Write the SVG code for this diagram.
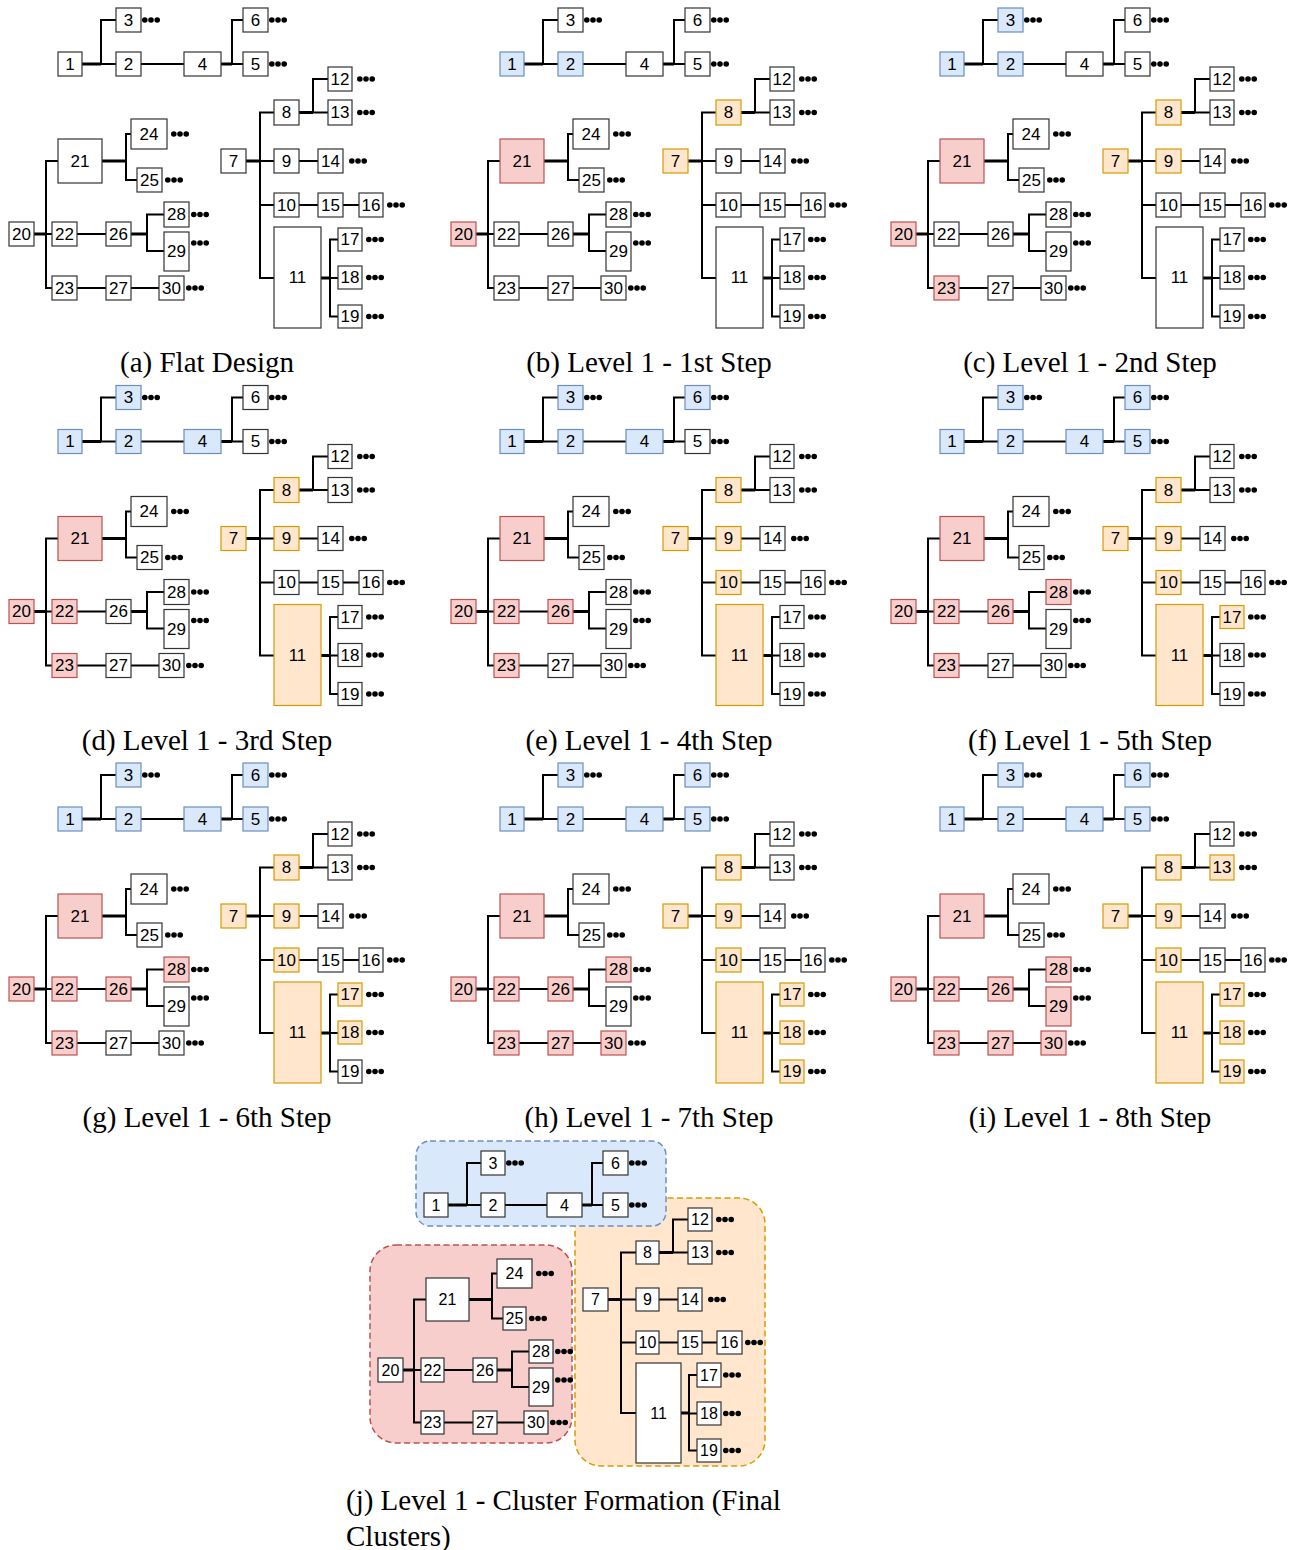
<svg xmlns="http://www.w3.org/2000/svg" xmlns:xlink="http://www.w3.org/1999/xlink" width="1304" height="1550" viewBox="0 0 1304 1550">
<style>
.nd rect{fill:#fff;stroke:#333;stroke-width:1.2}
.nd.B rect{fill:#dae8fc;stroke:#6c8ebf}
.nd.R rect{fill:#f8cecc;stroke:#b85450}
.nd.O rect{fill:#ffe6cc;stroke:#d79b00}
.nd text{font-family:"Liberation Sans",Arial,sans-serif;font-size:17px;text-anchor:middle;dominant-baseline:central;fill:#000}
.j text{font-size:16px}
.thin{fill:none;stroke:#000;stroke-width:2}
.thick{fill:none;stroke:#000;stroke-width:3}
.cap{font-family:"Liberation Serif","Times New Roman",serif;font-size:29px;text-anchor:middle;fill:#000}
.capl{font-family:"Liberation Serif","Times New Roman",serif;font-size:29px;fill:#000}
.reg{stroke-width:1.5;stroke-dasharray:6 3.5}
</style>
<defs>
<g id="dots"><circle cx="2.8" cy="0" r="2.8"/><circle cx="9" cy="0" r="2.8"/><circle cx="15.2" cy="0" r="2.8"/></g>
<g id="edges">
<path class="thin" d="M116,20H101V64H116 M141,64H184 M243,20H232V64H243 M274,112.5H260V278H274 M260,161H274 M260,205H274 M328,79H313V112.5H328 M299,161H318 M299,205H318 M343,205H359 M338,239.5H330V316.5H338 M330,278H338 M58,161H46V288H52 M46,234H52 M131,134H126V180H137 M77,234H106 M164,214.5H147V251H164 M77,288H106 M131,288H159"/>
<path class="thick" d="M82,64H101 M221,64H232 M246,161H260 M299,112.5H313 M321,278H330 M34,234H46 M102,161H126 M131,234H147"/>
</g>
<g id="pdots">
<use href="#dots" x="142" y="20"/><use href="#dots" x="269" y="20"/><use href="#dots" x="269" y="64"/><use href="#dots" x="357" y="79"/><use href="#dots" x="357" y="112.5"/><use href="#dots" x="349" y="161"/><use href="#dots" x="387" y="205"/><use href="#dots" x="366" y="239.5"/><use href="#dots" x="366" y="277.5"/><use href="#dots" x="366" y="316.5"/><use href="#dots" x="171" y="134"/><use href="#dots" x="165" y="180"/><use href="#dots" x="191" y="214.5"/><use href="#dots" x="191" y="243"/><use href="#dots" x="186" y="288"/>
</g>
</defs>
<rect width="1304" height="1550" fill="#fff"/>

<!-- (a) -->
<g id="panel-a">
<g id="a-connectors"><use href="#edges"/></g>
<use href="#pdots"/>
<g id="a1" class="nd"><rect x="58" y="52" width="24" height="24"/><text x="70" y="64">1</text></g>
<g id="a2" class="nd"><rect x="116" y="52" width="25" height="24"/><text x="128.5" y="64">2</text></g>
<g id="a3" class="nd"><rect x="116" y="8" width="25" height="24"/><text x="128.5" y="20">3</text></g>
<g id="a4" class="nd"><rect x="184" y="52" width="37" height="24"/><text x="202.5" y="64">4</text></g>
<g id="a5" class="nd"><rect x="243" y="52" width="25" height="24"/><text x="255.5" y="64">5</text></g>
<g id="a6" class="nd"><rect x="243" y="8" width="25" height="24"/><text x="255.5" y="20">6</text></g>
<g id="a7" class="nd"><rect x="221" y="149" width="25" height="24"/><text x="233.5" y="161">7</text></g>
<g id="a8" class="nd"><rect x="274" y="100" width="25" height="25"/><text x="286.5" y="112.5">8</text></g>
<g id="a9" class="nd"><rect x="274" y="149" width="25" height="24"/><text x="286.5" y="161">9</text></g>
<g id="a10" class="nd"><rect x="274" y="193" width="25" height="24"/><text x="286.5" y="205">10</text></g>
<g id="a11" class="nd"><rect x="274" y="227" width="47" height="101"/><text x="297.5" y="277.5">11</text></g>
<g id="a12" class="nd"><rect x="328" y="67" width="24" height="24"/><text x="340" y="79">12</text></g>
<g id="a13" class="nd"><rect x="328" y="100" width="24" height="25"/><text x="340" y="112.5">13</text></g>
<g id="a14" class="nd"><rect x="318" y="149" width="25" height="24"/><text x="330.5" y="161">14</text></g>
<g id="a15" class="nd"><rect x="318" y="193" width="25" height="24"/><text x="330.5" y="205">15</text></g>
<g id="a16" class="nd"><rect x="359" y="193" width="24" height="24"/><text x="371" y="205">16</text></g>
<g id="a17" class="nd"><rect x="338" y="228" width="24" height="23"/><text x="350" y="239.5">17</text></g>
<g id="a18" class="nd"><rect x="338" y="266" width="24" height="23"/><text x="350" y="277.5">18</text></g>
<g id="a19" class="nd"><rect x="338" y="305" width="24" height="23"/><text x="350" y="316.5">19</text></g>
<g id="a20" class="nd"><rect x="9" y="222" width="25" height="24"/><text x="21.5" y="234">20</text></g>
<g id="a21" class="nd"><rect x="58" y="139" width="44" height="44"/><text x="80" y="161">21</text></g>
<g id="a22" class="nd"><rect x="52" y="222" width="25" height="24"/><text x="64.5" y="234">22</text></g>
<g id="a23" class="nd"><rect x="52" y="276" width="25" height="24"/><text x="64.5" y="288">23</text></g>
<g id="a24" class="nd"><rect x="131" y="119" width="36" height="30"/><text x="149" y="134">24</text></g>
<g id="a25" class="nd"><rect x="137" y="168" width="25" height="24"/><text x="149.5" y="180">25</text></g>
<g id="a26" class="nd"><rect x="106" y="222" width="25" height="24"/><text x="118.5" y="234">26</text></g>
<g id="a27" class="nd"><rect x="106" y="276" width="25" height="24"/><text x="118.5" y="288">27</text></g>
<g id="a28" class="nd"><rect x="164" y="202" width="25" height="25"/><text x="176.5" y="214.5">28</text></g>
<g id="a29" class="nd"><rect x="164" y="232" width="25" height="39"/><text x="176.5" y="251.5">29</text></g>
<g id="a30" class="nd"><rect x="159" y="276" width="25" height="24"/><text x="171.5" y="288">30</text></g>
<text class="cap" x="207" y="372">(a) Flat Design</text>
</g>

<!-- (b) -->
<g id="panel-b" transform="translate(442,0)">
<g id="b-connectors"><use href="#edges"/></g>
<use href="#pdots"/>
<g id="b1" class="nd B"><rect x="58" y="52" width="24" height="24"/><text x="70" y="64">1</text></g>
<g id="b2" class="nd B"><rect x="116" y="52" width="25" height="24"/><text x="128.5" y="64">2</text></g>
<g id="b3" class="nd"><rect x="116" y="8" width="25" height="24"/><text x="128.5" y="20">3</text></g>
<g id="b4" class="nd"><rect x="184" y="52" width="37" height="24"/><text x="202.5" y="64">4</text></g>
<g id="b5" class="nd"><rect x="243" y="52" width="25" height="24"/><text x="255.5" y="64">5</text></g>
<g id="b6" class="nd"><rect x="243" y="8" width="25" height="24"/><text x="255.5" y="20">6</text></g>
<g id="b7" class="nd O"><rect x="221" y="149" width="25" height="24"/><text x="233.5" y="161">7</text></g>
<g id="b8" class="nd O"><rect x="274" y="100" width="25" height="25"/><text x="286.5" y="112.5">8</text></g>
<g id="b9" class="nd"><rect x="274" y="149" width="25" height="24"/><text x="286.5" y="161">9</text></g>
<g id="b10" class="nd"><rect x="274" y="193" width="25" height="24"/><text x="286.5" y="205">10</text></g>
<g id="b11" class="nd"><rect x="274" y="227" width="47" height="101"/><text x="297.5" y="277.5">11</text></g>
<g id="b12" class="nd"><rect x="328" y="67" width="24" height="24"/><text x="340" y="79">12</text></g>
<g id="b13" class="nd"><rect x="328" y="100" width="24" height="25"/><text x="340" y="112.5">13</text></g>
<g id="b14" class="nd"><rect x="318" y="149" width="25" height="24"/><text x="330.5" y="161">14</text></g>
<g id="b15" class="nd"><rect x="318" y="193" width="25" height="24"/><text x="330.5" y="205">15</text></g>
<g id="b16" class="nd"><rect x="359" y="193" width="24" height="24"/><text x="371" y="205">16</text></g>
<g id="b17" class="nd"><rect x="338" y="228" width="24" height="23"/><text x="350" y="239.5">17</text></g>
<g id="b18" class="nd"><rect x="338" y="266" width="24" height="23"/><text x="350" y="277.5">18</text></g>
<g id="b19" class="nd"><rect x="338" y="305" width="24" height="23"/><text x="350" y="316.5">19</text></g>
<g id="b20" class="nd R"><rect x="9" y="222" width="25" height="24"/><text x="21.5" y="234">20</text></g>
<g id="b21" class="nd R"><rect x="58" y="139" width="44" height="44"/><text x="80" y="161">21</text></g>
<g id="b22" class="nd"><rect x="52" y="222" width="25" height="24"/><text x="64.5" y="234">22</text></g>
<g id="b23" class="nd"><rect x="52" y="276" width="25" height="24"/><text x="64.5" y="288">23</text></g>
<g id="b24" class="nd"><rect x="131" y="119" width="36" height="30"/><text x="149" y="134">24</text></g>
<g id="b25" class="nd"><rect x="137" y="168" width="25" height="24"/><text x="149.5" y="180">25</text></g>
<g id="b26" class="nd"><rect x="106" y="222" width="25" height="24"/><text x="118.5" y="234">26</text></g>
<g id="b27" class="nd"><rect x="106" y="276" width="25" height="24"/><text x="118.5" y="288">27</text></g>
<g id="b28" class="nd"><rect x="164" y="202" width="25" height="25"/><text x="176.5" y="214.5">28</text></g>
<g id="b29" class="nd"><rect x="164" y="232" width="25" height="39"/><text x="176.5" y="251.5">29</text></g>
<g id="b30" class="nd"><rect x="159" y="276" width="25" height="24"/><text x="171.5" y="288">30</text></g>
<text class="cap" x="207" y="372">(b) Level 1 - 1st Step</text>
</g>

<!-- (c) -->
<g id="panel-c" transform="translate(882,0)">
<g id="c-connectors"><use href="#edges"/></g>
<use href="#pdots"/>
<g id="c1" class="nd B"><rect x="58" y="52" width="24" height="24"/><text x="70" y="64">1</text></g>
<g id="c2" class="nd B"><rect x="116" y="52" width="25" height="24"/><text x="128.5" y="64">2</text></g>
<g id="c3" class="nd B"><rect x="116" y="8" width="25" height="24"/><text x="128.5" y="20">3</text></g>
<g id="c4" class="nd"><rect x="184" y="52" width="37" height="24"/><text x="202.5" y="64">4</text></g>
<g id="c5" class="nd"><rect x="243" y="52" width="25" height="24"/><text x="255.5" y="64">5</text></g>
<g id="c6" class="nd"><rect x="243" y="8" width="25" height="24"/><text x="255.5" y="20">6</text></g>
<g id="c7" class="nd O"><rect x="221" y="149" width="25" height="24"/><text x="233.5" y="161">7</text></g>
<g id="c8" class="nd O"><rect x="274" y="100" width="25" height="25"/><text x="286.5" y="112.5">8</text></g>
<g id="c9" class="nd O"><rect x="274" y="149" width="25" height="24"/><text x="286.5" y="161">9</text></g>
<g id="c10" class="nd"><rect x="274" y="193" width="25" height="24"/><text x="286.5" y="205">10</text></g>
<g id="c11" class="nd"><rect x="274" y="227" width="47" height="101"/><text x="297.5" y="277.5">11</text></g>
<g id="c12" class="nd"><rect x="328" y="67" width="24" height="24"/><text x="340" y="79">12</text></g>
<g id="c13" class="nd"><rect x="328" y="100" width="24" height="25"/><text x="340" y="112.5">13</text></g>
<g id="c14" class="nd"><rect x="318" y="149" width="25" height="24"/><text x="330.5" y="161">14</text></g>
<g id="c15" class="nd"><rect x="318" y="193" width="25" height="24"/><text x="330.5" y="205">15</text></g>
<g id="c16" class="nd"><rect x="359" y="193" width="24" height="24"/><text x="371" y="205">16</text></g>
<g id="c17" class="nd"><rect x="338" y="228" width="24" height="23"/><text x="350" y="239.5">17</text></g>
<g id="c18" class="nd"><rect x="338" y="266" width="24" height="23"/><text x="350" y="277.5">18</text></g>
<g id="c19" class="nd"><rect x="338" y="305" width="24" height="23"/><text x="350" y="316.5">19</text></g>
<g id="c20" class="nd R"><rect x="9" y="222" width="25" height="24"/><text x="21.5" y="234">20</text></g>
<g id="c21" class="nd R"><rect x="58" y="139" width="44" height="44"/><text x="80" y="161">21</text></g>
<g id="c22" class="nd"><rect x="52" y="222" width="25" height="24"/><text x="64.5" y="234">22</text></g>
<g id="c23" class="nd R"><rect x="52" y="276" width="25" height="24"/><text x="64.5" y="288">23</text></g>
<g id="c24" class="nd"><rect x="131" y="119" width="36" height="30"/><text x="149" y="134">24</text></g>
<g id="c25" class="nd"><rect x="137" y="168" width="25" height="24"/><text x="149.5" y="180">25</text></g>
<g id="c26" class="nd"><rect x="106" y="222" width="25" height="24"/><text x="118.5" y="234">26</text></g>
<g id="c27" class="nd"><rect x="106" y="276" width="25" height="24"/><text x="118.5" y="288">27</text></g>
<g id="c28" class="nd"><rect x="164" y="202" width="25" height="25"/><text x="176.5" y="214.5">28</text></g>
<g id="c29" class="nd"><rect x="164" y="232" width="25" height="39"/><text x="176.5" y="251.5">29</text></g>
<g id="c30" class="nd"><rect x="159" y="276" width="25" height="24"/><text x="171.5" y="288">30</text></g>
<text class="cap" x="208" y="372">(c) Level 1 - 2nd Step</text>
</g>

<!-- (d) -->
<g id="panel-d" transform="translate(0,377.5)">
<g id="d-connectors"><use href="#edges"/></g>
<use href="#pdots"/>
<g id="d1" class="nd B"><rect x="58" y="52" width="24" height="24"/><text x="70" y="64">1</text></g>
<g id="d2" class="nd B"><rect x="116" y="52" width="25" height="24"/><text x="128.5" y="64">2</text></g>
<g id="d3" class="nd B"><rect x="116" y="8" width="25" height="24"/><text x="128.5" y="20">3</text></g>
<g id="d4" class="nd B"><rect x="184" y="52" width="37" height="24"/><text x="202.5" y="64">4</text></g>
<g id="d5" class="nd"><rect x="243" y="52" width="25" height="24"/><text x="255.5" y="64">5</text></g>
<g id="d6" class="nd"><rect x="243" y="8" width="25" height="24"/><text x="255.5" y="20">6</text></g>
<g id="d7" class="nd O"><rect x="221" y="149" width="25" height="24"/><text x="233.5" y="161">7</text></g>
<g id="d8" class="nd O"><rect x="274" y="100" width="25" height="25"/><text x="286.5" y="112.5">8</text></g>
<g id="d9" class="nd O"><rect x="274" y="149" width="25" height="24"/><text x="286.5" y="161">9</text></g>
<g id="d10" class="nd"><rect x="274" y="193" width="25" height="24"/><text x="286.5" y="205">10</text></g>
<g id="d11" class="nd O"><rect x="274" y="227" width="47" height="101"/><text x="297.5" y="277.5">11</text></g>
<g id="d12" class="nd"><rect x="328" y="67" width="24" height="24"/><text x="340" y="79">12</text></g>
<g id="d13" class="nd"><rect x="328" y="100" width="24" height="25"/><text x="340" y="112.5">13</text></g>
<g id="d14" class="nd"><rect x="318" y="149" width="25" height="24"/><text x="330.5" y="161">14</text></g>
<g id="d15" class="nd"><rect x="318" y="193" width="25" height="24"/><text x="330.5" y="205">15</text></g>
<g id="d16" class="nd"><rect x="359" y="193" width="24" height="24"/><text x="371" y="205">16</text></g>
<g id="d17" class="nd"><rect x="338" y="228" width="24" height="23"/><text x="350" y="239.5">17</text></g>
<g id="d18" class="nd"><rect x="338" y="266" width="24" height="23"/><text x="350" y="277.5">18</text></g>
<g id="d19" class="nd"><rect x="338" y="305" width="24" height="23"/><text x="350" y="316.5">19</text></g>
<g id="d20" class="nd R"><rect x="9" y="222" width="25" height="24"/><text x="21.5" y="234">20</text></g>
<g id="d21" class="nd R"><rect x="58" y="139" width="44" height="44"/><text x="80" y="161">21</text></g>
<g id="d22" class="nd R"><rect x="52" y="222" width="25" height="24"/><text x="64.5" y="234">22</text></g>
<g id="d23" class="nd R"><rect x="52" y="276" width="25" height="24"/><text x="64.5" y="288">23</text></g>
<g id="d24" class="nd"><rect x="131" y="119" width="36" height="30"/><text x="149" y="134">24</text></g>
<g id="d25" class="nd"><rect x="137" y="168" width="25" height="24"/><text x="149.5" y="180">25</text></g>
<g id="d26" class="nd"><rect x="106" y="222" width="25" height="24"/><text x="118.5" y="234">26</text></g>
<g id="d27" class="nd"><rect x="106" y="276" width="25" height="24"/><text x="118.5" y="288">27</text></g>
<g id="d28" class="nd"><rect x="164" y="202" width="25" height="25"/><text x="176.5" y="214.5">28</text></g>
<g id="d29" class="nd"><rect x="164" y="232" width="25" height="39"/><text x="176.5" y="251.5">29</text></g>
<g id="d30" class="nd"><rect x="159" y="276" width="25" height="24"/><text x="171.5" y="288">30</text></g>
<text class="cap" x="207" y="372">(d) Level 1 - 3rd Step</text>
</g>

<!-- (e) -->
<g id="panel-e" transform="translate(442,377.5)">
<g id="e-connectors"><use href="#edges"/></g>
<use href="#pdots"/>
<g id="e1" class="nd B"><rect x="58" y="52" width="24" height="24"/><text x="70" y="64">1</text></g>
<g id="e2" class="nd B"><rect x="116" y="52" width="25" height="24"/><text x="128.5" y="64">2</text></g>
<g id="e3" class="nd B"><rect x="116" y="8" width="25" height="24"/><text x="128.5" y="20">3</text></g>
<g id="e4" class="nd B"><rect x="184" y="52" width="37" height="24"/><text x="202.5" y="64">4</text></g>
<g id="e5" class="nd"><rect x="243" y="52" width="25" height="24"/><text x="255.5" y="64">5</text></g>
<g id="e6" class="nd B"><rect x="243" y="8" width="25" height="24"/><text x="255.5" y="20">6</text></g>
<g id="e7" class="nd O"><rect x="221" y="149" width="25" height="24"/><text x="233.5" y="161">7</text></g>
<g id="e8" class="nd O"><rect x="274" y="100" width="25" height="25"/><text x="286.5" y="112.5">8</text></g>
<g id="e9" class="nd O"><rect x="274" y="149" width="25" height="24"/><text x="286.5" y="161">9</text></g>
<g id="e10" class="nd O"><rect x="274" y="193" width="25" height="24"/><text x="286.5" y="205">10</text></g>
<g id="e11" class="nd O"><rect x="274" y="227" width="47" height="101"/><text x="297.5" y="277.5">11</text></g>
<g id="e12" class="nd"><rect x="328" y="67" width="24" height="24"/><text x="340" y="79">12</text></g>
<g id="e13" class="nd"><rect x="328" y="100" width="24" height="25"/><text x="340" y="112.5">13</text></g>
<g id="e14" class="nd"><rect x="318" y="149" width="25" height="24"/><text x="330.5" y="161">14</text></g>
<g id="e15" class="nd"><rect x="318" y="193" width="25" height="24"/><text x="330.5" y="205">15</text></g>
<g id="e16" class="nd"><rect x="359" y="193" width="24" height="24"/><text x="371" y="205">16</text></g>
<g id="e17" class="nd"><rect x="338" y="228" width="24" height="23"/><text x="350" y="239.5">17</text></g>
<g id="e18" class="nd"><rect x="338" y="266" width="24" height="23"/><text x="350" y="277.5">18</text></g>
<g id="e19" class="nd"><rect x="338" y="305" width="24" height="23"/><text x="350" y="316.5">19</text></g>
<g id="e20" class="nd R"><rect x="9" y="222" width="25" height="24"/><text x="21.5" y="234">20</text></g>
<g id="e21" class="nd R"><rect x="58" y="139" width="44" height="44"/><text x="80" y="161">21</text></g>
<g id="e22" class="nd R"><rect x="52" y="222" width="25" height="24"/><text x="64.5" y="234">22</text></g>
<g id="e23" class="nd R"><rect x="52" y="276" width="25" height="24"/><text x="64.5" y="288">23</text></g>
<g id="e24" class="nd"><rect x="131" y="119" width="36" height="30"/><text x="149" y="134">24</text></g>
<g id="e25" class="nd"><rect x="137" y="168" width="25" height="24"/><text x="149.5" y="180">25</text></g>
<g id="e26" class="nd R"><rect x="106" y="222" width="25" height="24"/><text x="118.5" y="234">26</text></g>
<g id="e27" class="nd"><rect x="106" y="276" width="25" height="24"/><text x="118.5" y="288">27</text></g>
<g id="e28" class="nd"><rect x="164" y="202" width="25" height="25"/><text x="176.5" y="214.5">28</text></g>
<g id="e29" class="nd"><rect x="164" y="232" width="25" height="39"/><text x="176.5" y="251.5">29</text></g>
<g id="e30" class="nd"><rect x="159" y="276" width="25" height="24"/><text x="171.5" y="288">30</text></g>
<text class="cap" x="207" y="372">(e) Level 1 - 4th Step</text>
</g>

<!-- (f) -->
<g id="panel-f" transform="translate(882,377.5)">
<g id="f-connectors"><use href="#edges"/></g>
<use href="#pdots"/>
<g id="f1" class="nd B"><rect x="58" y="52" width="24" height="24"/><text x="70" y="64">1</text></g>
<g id="f2" class="nd B"><rect x="116" y="52" width="25" height="24"/><text x="128.5" y="64">2</text></g>
<g id="f3" class="nd B"><rect x="116" y="8" width="25" height="24"/><text x="128.5" y="20">3</text></g>
<g id="f4" class="nd B"><rect x="184" y="52" width="37" height="24"/><text x="202.5" y="64">4</text></g>
<g id="f5" class="nd B"><rect x="243" y="52" width="25" height="24"/><text x="255.5" y="64">5</text></g>
<g id="f6" class="nd B"><rect x="243" y="8" width="25" height="24"/><text x="255.5" y="20">6</text></g>
<g id="f7" class="nd O"><rect x="221" y="149" width="25" height="24"/><text x="233.5" y="161">7</text></g>
<g id="f8" class="nd O"><rect x="274" y="100" width="25" height="25"/><text x="286.5" y="112.5">8</text></g>
<g id="f9" class="nd O"><rect x="274" y="149" width="25" height="24"/><text x="286.5" y="161">9</text></g>
<g id="f10" class="nd O"><rect x="274" y="193" width="25" height="24"/><text x="286.5" y="205">10</text></g>
<g id="f11" class="nd O"><rect x="274" y="227" width="47" height="101"/><text x="297.5" y="277.5">11</text></g>
<g id="f12" class="nd"><rect x="328" y="67" width="24" height="24"/><text x="340" y="79">12</text></g>
<g id="f13" class="nd"><rect x="328" y="100" width="24" height="25"/><text x="340" y="112.5">13</text></g>
<g id="f14" class="nd"><rect x="318" y="149" width="25" height="24"/><text x="330.5" y="161">14</text></g>
<g id="f15" class="nd"><rect x="318" y="193" width="25" height="24"/><text x="330.5" y="205">15</text></g>
<g id="f16" class="nd"><rect x="359" y="193" width="24" height="24"/><text x="371" y="205">16</text></g>
<g id="f17" class="nd O"><rect x="338" y="228" width="24" height="23"/><text x="350" y="239.5">17</text></g>
<g id="f18" class="nd"><rect x="338" y="266" width="24" height="23"/><text x="350" y="277.5">18</text></g>
<g id="f19" class="nd"><rect x="338" y="305" width="24" height="23"/><text x="350" y="316.5">19</text></g>
<g id="f20" class="nd R"><rect x="9" y="222" width="25" height="24"/><text x="21.5" y="234">20</text></g>
<g id="f21" class="nd R"><rect x="58" y="139" width="44" height="44"/><text x="80" y="161">21</text></g>
<g id="f22" class="nd R"><rect x="52" y="222" width="25" height="24"/><text x="64.5" y="234">22</text></g>
<g id="f23" class="nd R"><rect x="52" y="276" width="25" height="24"/><text x="64.5" y="288">23</text></g>
<g id="f24" class="nd"><rect x="131" y="119" width="36" height="30"/><text x="149" y="134">24</text></g>
<g id="f25" class="nd"><rect x="137" y="168" width="25" height="24"/><text x="149.5" y="180">25</text></g>
<g id="f26" class="nd R"><rect x="106" y="222" width="25" height="24"/><text x="118.5" y="234">26</text></g>
<g id="f27" class="nd"><rect x="106" y="276" width="25" height="24"/><text x="118.5" y="288">27</text></g>
<g id="f28" class="nd R"><rect x="164" y="202" width="25" height="25"/><text x="176.5" y="214.5">28</text></g>
<g id="f29" class="nd"><rect x="164" y="232" width="25" height="39"/><text x="176.5" y="251.5">29</text></g>
<g id="f30" class="nd"><rect x="159" y="276" width="25" height="24"/><text x="171.5" y="288">30</text></g>
<text class="cap" x="208" y="372">(f) Level 1 - 5th Step</text>
</g>

<!-- (g) -->
<g id="panel-g" transform="translate(0,755)">
<g id="g-connectors"><use href="#edges"/></g>
<use href="#pdots"/>
<g id="g1" class="nd B"><rect x="58" y="52" width="24" height="24"/><text x="70" y="64">1</text></g>
<g id="g2" class="nd B"><rect x="116" y="52" width="25" height="24"/><text x="128.5" y="64">2</text></g>
<g id="g3" class="nd B"><rect x="116" y="8" width="25" height="24"/><text x="128.5" y="20">3</text></g>
<g id="g4" class="nd B"><rect x="184" y="52" width="37" height="24"/><text x="202.5" y="64">4</text></g>
<g id="g5" class="nd B"><rect x="243" y="52" width="25" height="24"/><text x="255.5" y="64">5</text></g>
<g id="g6" class="nd B"><rect x="243" y="8" width="25" height="24"/><text x="255.5" y="20">6</text></g>
<g id="g7" class="nd O"><rect x="221" y="149" width="25" height="24"/><text x="233.5" y="161">7</text></g>
<g id="g8" class="nd O"><rect x="274" y="100" width="25" height="25"/><text x="286.5" y="112.5">8</text></g>
<g id="g9" class="nd O"><rect x="274" y="149" width="25" height="24"/><text x="286.5" y="161">9</text></g>
<g id="g10" class="nd O"><rect x="274" y="193" width="25" height="24"/><text x="286.5" y="205">10</text></g>
<g id="g11" class="nd O"><rect x="274" y="227" width="47" height="101"/><text x="297.5" y="277.5">11</text></g>
<g id="g12" class="nd"><rect x="328" y="67" width="24" height="24"/><text x="340" y="79">12</text></g>
<g id="g13" class="nd"><rect x="328" y="100" width="24" height="25"/><text x="340" y="112.5">13</text></g>
<g id="g14" class="nd"><rect x="318" y="149" width="25" height="24"/><text x="330.5" y="161">14</text></g>
<g id="g15" class="nd"><rect x="318" y="193" width="25" height="24"/><text x="330.5" y="205">15</text></g>
<g id="g16" class="nd"><rect x="359" y="193" width="24" height="24"/><text x="371" y="205">16</text></g>
<g id="g17" class="nd O"><rect x="338" y="228" width="24" height="23"/><text x="350" y="239.5">17</text></g>
<g id="g18" class="nd O"><rect x="338" y="266" width="24" height="23"/><text x="350" y="277.5">18</text></g>
<g id="g19" class="nd"><rect x="338" y="305" width="24" height="23"/><text x="350" y="316.5">19</text></g>
<g id="g20" class="nd R"><rect x="9" y="222" width="25" height="24"/><text x="21.5" y="234">20</text></g>
<g id="g21" class="nd R"><rect x="58" y="139" width="44" height="44"/><text x="80" y="161">21</text></g>
<g id="g22" class="nd R"><rect x="52" y="222" width="25" height="24"/><text x="64.5" y="234">22</text></g>
<g id="g23" class="nd R"><rect x="52" y="276" width="25" height="24"/><text x="64.5" y="288">23</text></g>
<g id="g24" class="nd"><rect x="131" y="119" width="36" height="30"/><text x="149" y="134">24</text></g>
<g id="g25" class="nd"><rect x="137" y="168" width="25" height="24"/><text x="149.5" y="180">25</text></g>
<g id="g26" class="nd R"><rect x="106" y="222" width="25" height="24"/><text x="118.5" y="234">26</text></g>
<g id="g27" class="nd"><rect x="106" y="276" width="25" height="24"/><text x="118.5" y="288">27</text></g>
<g id="g28" class="nd R"><rect x="164" y="202" width="25" height="25"/><text x="176.5" y="214.5">28</text></g>
<g id="g29" class="nd"><rect x="164" y="232" width="25" height="39"/><text x="176.5" y="251.5">29</text></g>
<g id="g30" class="nd"><rect x="159" y="276" width="25" height="24"/><text x="171.5" y="288">30</text></g>
<text class="cap" x="207" y="372">(g) Level 1 - 6th Step</text>
</g>

<!-- (h) -->
<g id="panel-h" transform="translate(442,755)">
<g id="h-connectors"><use href="#edges"/></g>
<use href="#pdots"/>
<g id="h1" class="nd B"><rect x="58" y="52" width="24" height="24"/><text x="70" y="64">1</text></g>
<g id="h2" class="nd B"><rect x="116" y="52" width="25" height="24"/><text x="128.5" y="64">2</text></g>
<g id="h3" class="nd B"><rect x="116" y="8" width="25" height="24"/><text x="128.5" y="20">3</text></g>
<g id="h4" class="nd B"><rect x="184" y="52" width="37" height="24"/><text x="202.5" y="64">4</text></g>
<g id="h5" class="nd B"><rect x="243" y="52" width="25" height="24"/><text x="255.5" y="64">5</text></g>
<g id="h6" class="nd B"><rect x="243" y="8" width="25" height="24"/><text x="255.5" y="20">6</text></g>
<g id="h7" class="nd O"><rect x="221" y="149" width="25" height="24"/><text x="233.5" y="161">7</text></g>
<g id="h8" class="nd O"><rect x="274" y="100" width="25" height="25"/><text x="286.5" y="112.5">8</text></g>
<g id="h9" class="nd O"><rect x="274" y="149" width="25" height="24"/><text x="286.5" y="161">9</text></g>
<g id="h10" class="nd O"><rect x="274" y="193" width="25" height="24"/><text x="286.5" y="205">10</text></g>
<g id="h11" class="nd O"><rect x="274" y="227" width="47" height="101"/><text x="297.5" y="277.5">11</text></g>
<g id="h12" class="nd"><rect x="328" y="67" width="24" height="24"/><text x="340" y="79">12</text></g>
<g id="h13" class="nd"><rect x="328" y="100" width="24" height="25"/><text x="340" y="112.5">13</text></g>
<g id="h14" class="nd"><rect x="318" y="149" width="25" height="24"/><text x="330.5" y="161">14</text></g>
<g id="h15" class="nd"><rect x="318" y="193" width="25" height="24"/><text x="330.5" y="205">15</text></g>
<g id="h16" class="nd"><rect x="359" y="193" width="24" height="24"/><text x="371" y="205">16</text></g>
<g id="h17" class="nd O"><rect x="338" y="228" width="24" height="23"/><text x="350" y="239.5">17</text></g>
<g id="h18" class="nd O"><rect x="338" y="266" width="24" height="23"/><text x="350" y="277.5">18</text></g>
<g id="h19" class="nd O"><rect x="338" y="305" width="24" height="23"/><text x="350" y="316.5">19</text></g>
<g id="h20" class="nd R"><rect x="9" y="222" width="25" height="24"/><text x="21.5" y="234">20</text></g>
<g id="h21" class="nd R"><rect x="58" y="139" width="44" height="44"/><text x="80" y="161">21</text></g>
<g id="h22" class="nd R"><rect x="52" y="222" width="25" height="24"/><text x="64.5" y="234">22</text></g>
<g id="h23" class="nd R"><rect x="52" y="276" width="25" height="24"/><text x="64.5" y="288">23</text></g>
<g id="h24" class="nd"><rect x="131" y="119" width="36" height="30"/><text x="149" y="134">24</text></g>
<g id="h25" class="nd"><rect x="137" y="168" width="25" height="24"/><text x="149.5" y="180">25</text></g>
<g id="h26" class="nd R"><rect x="106" y="222" width="25" height="24"/><text x="118.5" y="234">26</text></g>
<g id="h27" class="nd R"><rect x="106" y="276" width="25" height="24"/><text x="118.5" y="288">27</text></g>
<g id="h28" class="nd R"><rect x="164" y="202" width="25" height="25"/><text x="176.5" y="214.5">28</text></g>
<g id="h29" class="nd"><rect x="164" y="232" width="25" height="39"/><text x="176.5" y="251.5">29</text></g>
<g id="h30" class="nd R"><rect x="159" y="276" width="25" height="24"/><text x="171.5" y="288">30</text></g>
<text class="cap" x="207" y="372">(h) Level 1 - 7th Step</text>
</g>

<!-- (i) -->
<g id="panel-i" transform="translate(882,755)">
<g id="i-connectors"><use href="#edges"/></g>
<use href="#pdots"/>
<g id="i1" class="nd B"><rect x="58" y="52" width="24" height="24"/><text x="70" y="64">1</text></g>
<g id="i2" class="nd B"><rect x="116" y="52" width="25" height="24"/><text x="128.5" y="64">2</text></g>
<g id="i3" class="nd B"><rect x="116" y="8" width="25" height="24"/><text x="128.5" y="20">3</text></g>
<g id="i4" class="nd B"><rect x="184" y="52" width="37" height="24"/><text x="202.5" y="64">4</text></g>
<g id="i5" class="nd B"><rect x="243" y="52" width="25" height="24"/><text x="255.5" y="64">5</text></g>
<g id="i6" class="nd B"><rect x="243" y="8" width="25" height="24"/><text x="255.5" y="20">6</text></g>
<g id="i7" class="nd O"><rect x="221" y="149" width="25" height="24"/><text x="233.5" y="161">7</text></g>
<g id="i8" class="nd O"><rect x="274" y="100" width="25" height="25"/><text x="286.5" y="112.5">8</text></g>
<g id="i9" class="nd O"><rect x="274" y="149" width="25" height="24"/><text x="286.5" y="161">9</text></g>
<g id="i10" class="nd O"><rect x="274" y="193" width="25" height="24"/><text x="286.5" y="205">10</text></g>
<g id="i11" class="nd O"><rect x="274" y="227" width="47" height="101"/><text x="297.5" y="277.5">11</text></g>
<g id="i12" class="nd"><rect x="328" y="67" width="24" height="24"/><text x="340" y="79">12</text></g>
<g id="i13" class="nd O"><rect x="328" y="100" width="24" height="25"/><text x="340" y="112.5">13</text></g>
<g id="i14" class="nd"><rect x="318" y="149" width="25" height="24"/><text x="330.5" y="161">14</text></g>
<g id="i15" class="nd"><rect x="318" y="193" width="25" height="24"/><text x="330.5" y="205">15</text></g>
<g id="i16" class="nd"><rect x="359" y="193" width="24" height="24"/><text x="371" y="205">16</text></g>
<g id="i17" class="nd O"><rect x="338" y="228" width="24" height="23"/><text x="350" y="239.5">17</text></g>
<g id="i18" class="nd O"><rect x="338" y="266" width="24" height="23"/><text x="350" y="277.5">18</text></g>
<g id="i19" class="nd O"><rect x="338" y="305" width="24" height="23"/><text x="350" y="316.5">19</text></g>
<g id="i20" class="nd R"><rect x="9" y="222" width="25" height="24"/><text x="21.5" y="234">20</text></g>
<g id="i21" class="nd R"><rect x="58" y="139" width="44" height="44"/><text x="80" y="161">21</text></g>
<g id="i22" class="nd R"><rect x="52" y="222" width="25" height="24"/><text x="64.5" y="234">22</text></g>
<g id="i23" class="nd R"><rect x="52" y="276" width="25" height="24"/><text x="64.5" y="288">23</text></g>
<g id="i24" class="nd"><rect x="131" y="119" width="36" height="30"/><text x="149" y="134">24</text></g>
<g id="i25" class="nd"><rect x="137" y="168" width="25" height="24"/><text x="149.5" y="180">25</text></g>
<g id="i26" class="nd R"><rect x="106" y="222" width="25" height="24"/><text x="118.5" y="234">26</text></g>
<g id="i27" class="nd R"><rect x="106" y="276" width="25" height="24"/><text x="118.5" y="288">27</text></g>
<g id="i28" class="nd R"><rect x="164" y="202" width="25" height="25"/><text x="176.5" y="214.5">28</text></g>
<g id="i29" class="nd R"><rect x="164" y="232" width="25" height="39"/><text x="176.5" y="251.5">29</text></g>
<g id="i30" class="nd R"><rect x="159" y="276" width="25" height="24"/><text x="171.5" y="288">30</text></g>
<text class="cap" x="208" y="372">(i) Level 1 - 8th Step</text>
</g>

<!-- (j) -->
<g id="panel-j">
<rect id="cluster-orange" class="reg" x="575" y="1198" width="190" height="268" rx="26" fill="#ffe6cc" stroke="#d79b00"/>
<rect id="cluster-red" class="reg" x="370" y="1245" width="202" height="198" rx="26" fill="#f8cecc" stroke="#b85450"/>
<rect id="cluster-blue" class="reg" x="416" y="1141" width="250" height="85" rx="14" fill="#dae8fc" stroke="#6c8ebf"/>
<g id="j-connectors">
<path class="thin" d="M481,1163H467V1205H481 M505,1205H547 M603,1163H592V1205H603 M636,1252.5H621V1413H636 M621,1299.5H636 M621,1342.5H636 M688,1219.5H673V1252.5H688 M659,1299.5H678 M659,1342.5H678 M702,1342.5H717 M697,1375H689V1450.5H697 M689,1413.5H697 M426,1299.5H414V1422.5H421 M414,1370H421 M497,1273.5H492V1318.5H503 M444,1370H473 M529,1351.5H512V1387H529 M444,1422.5H473 M497,1422.5H524"/>
<path class="thick" d="M448,1205H467 M582,1205H592 M608,1299.5H621 M659,1252.5H673 M681,1413H689 M403,1370H414 M469,1299.5H492 M497,1370H512"/>
</g>
<g id="j-dots">
<use href="#dots" x="506" y="1163"/><use href="#dots" x="629" y="1163"/><use href="#dots" x="629" y="1205"/><use href="#dots" x="716" y="1219.5"/><use href="#dots" x="716" y="1252.5"/><use href="#dots" x="708" y="1299.5"/><use href="#dots" x="745" y="1342.5"/><use href="#dots" x="723" y="1375"/><use href="#dots" x="723" y="1413.5"/><use href="#dots" x="723" y="1450.5"/><use href="#dots" x="536" y="1273.5"/><use href="#dots" x="529" y="1318.5"/><use href="#dots" x="555" y="1351.5"/><use href="#dots" x="555" y="1380"/><use href="#dots" x="550" y="1422.5"/>
</g>
<g class="j">
<g id="j1" class="nd"><rect x="424" y="1193" width="24" height="24"/><text x="436" y="1205">1</text></g>
<g id="j2" class="nd"><rect x="481" y="1193" width="24" height="24"/><text x="493" y="1205">2</text></g>
<g id="j3" class="nd"><rect x="481" y="1151" width="24" height="24"/><text x="493" y="1163">3</text></g>
<g id="j4" class="nd"><rect x="547" y="1193" width="35" height="24"/><text x="564.5" y="1205">4</text></g>
<g id="j5" class="nd"><rect x="603" y="1193" width="25" height="24"/><text x="615.5" y="1205">5</text></g>
<g id="j6" class="nd"><rect x="603" y="1151" width="25" height="24"/><text x="615.5" y="1163">6</text></g>
<g id="j7" class="nd"><rect x="583" y="1288" width="25" height="23"/><text x="595.5" y="1299.5">7</text></g>
<g id="j8" class="nd"><rect x="636" y="1241" width="23" height="23"/><text x="647.5" y="1252.5">8</text></g>
<g id="j9" class="nd"><rect x="636" y="1288" width="23" height="23"/><text x="647.5" y="1299.5">9</text></g>
<g id="j10" class="nd"><rect x="636" y="1331" width="23" height="23"/><text x="647.5" y="1342.5">10</text></g>
<g id="j11" class="nd"><rect x="636" y="1363" width="45" height="100"/><text x="658.5" y="1413">11</text></g>
<g id="j12" class="nd"><rect x="688" y="1208" width="24" height="23"/><text x="700" y="1219.5">12</text></g>
<g id="j13" class="nd"><rect x="688" y="1241" width="24" height="23"/><text x="700" y="1252.5">13</text></g>
<g id="j14" class="nd"><rect x="678" y="1288" width="24" height="23"/><text x="690" y="1299.5">14</text></g>
<g id="j15" class="nd"><rect x="678" y="1331" width="24" height="23"/><text x="690" y="1342.5">15</text></g>
<g id="j16" class="nd"><rect x="717" y="1331" width="25" height="23"/><text x="729.5" y="1342.5">16</text></g>
<g id="j17" class="nd"><rect x="697" y="1363" width="24" height="24"/><text x="709" y="1375">17</text></g>
<g id="j18" class="nd"><rect x="697" y="1402" width="24" height="23"/><text x="709" y="1413.5">18</text></g>
<g id="j19" class="nd"><rect x="697" y="1439" width="24" height="23"/><text x="709" y="1450.5">19</text></g>
<g id="j20" class="nd"><rect x="378" y="1358" width="25" height="24"/><text x="390.5" y="1370">20</text></g>
<g id="j21" class="nd"><rect x="426" y="1278" width="43" height="43"/><text x="447.5" y="1299.5">21</text></g>
<g id="j22" class="nd"><rect x="421" y="1358" width="23" height="24"/><text x="432.5" y="1370">22</text></g>
<g id="j23" class="nd"><rect x="421" y="1411" width="23" height="23"/><text x="432.5" y="1422.5">23</text></g>
<g id="j24" class="nd"><rect x="497" y="1259" width="35" height="29"/><text x="514.5" y="1273.5">24</text></g>
<g id="j25" class="nd"><rect x="503" y="1307" width="23" height="23"/><text x="514.5" y="1318.5">25</text></g>
<g id="j26" class="nd"><rect x="473" y="1358" width="24" height="24"/><text x="485" y="1370">26</text></g>
<g id="j27" class="nd"><rect x="473" y="1411" width="24" height="23"/><text x="485" y="1422.5">27</text></g>
<g id="j28" class="nd"><rect x="529" y="1340" width="24" height="23"/><text x="541" y="1351.5">28</text></g>
<g id="j29" class="nd"><rect x="529" y="1368" width="24" height="38"/><text x="541" y="1387">29</text></g>
<g id="j30" class="nd"><rect x="524" y="1411" width="24" height="23"/><text x="536" y="1422.5">30</text></g>
</g>
<text class="capl" x="346" y="1510">(j) Level 1 - Cluster Formation (Final</text>
<text class="capl" x="346" y="1546">Clusters)</text>
</g>
</svg>
